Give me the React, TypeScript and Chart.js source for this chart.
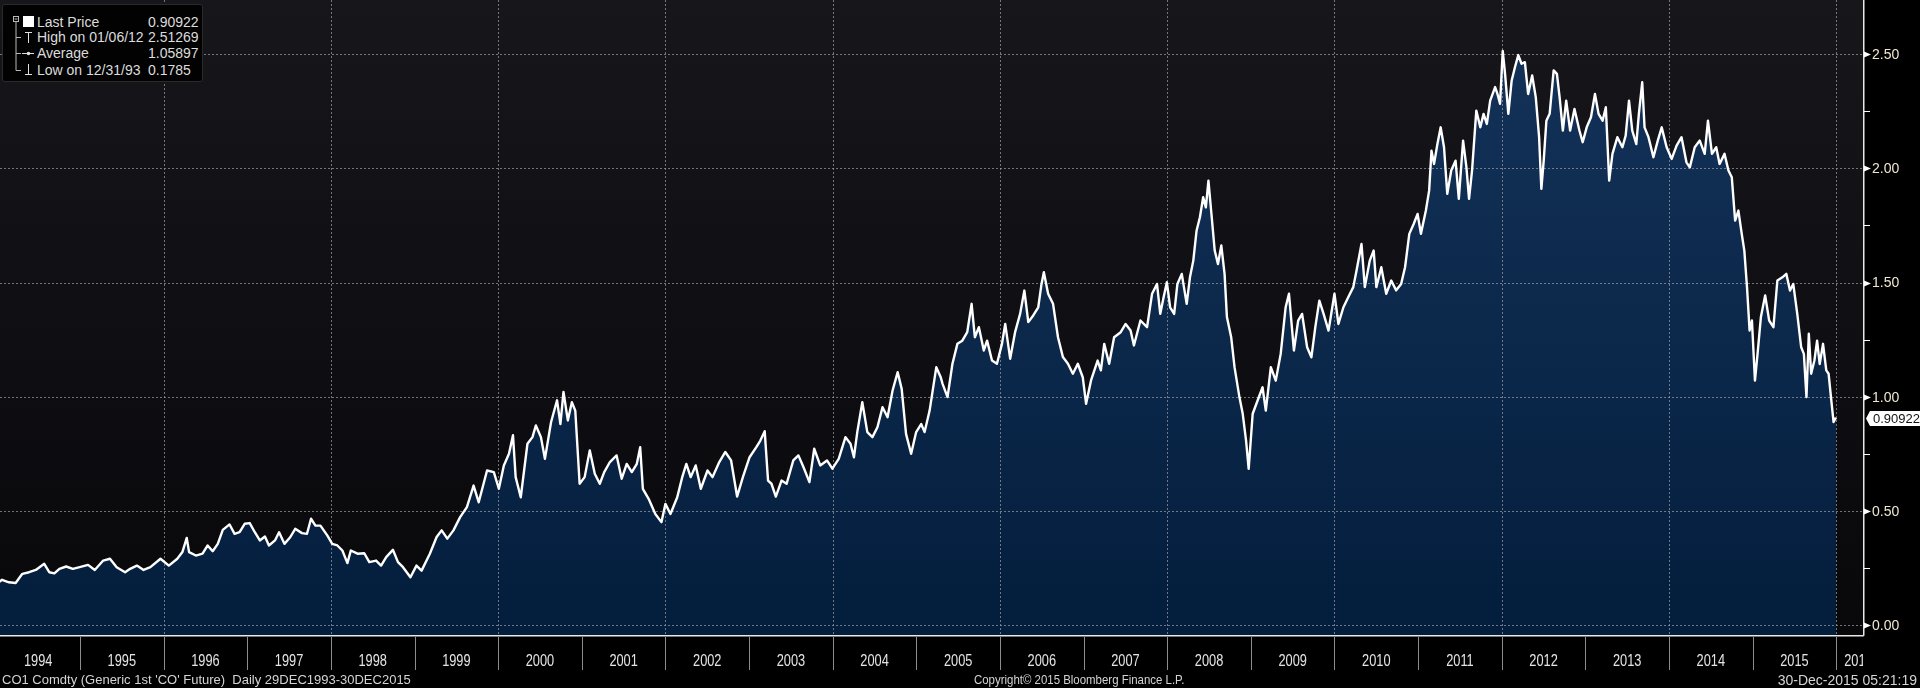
import { useEffect, useRef } from 'react';
import { Chart, registerables } from 'chart.js';

Chart.register(...registerables);

// ---- price history (decimal year, price) ----
const PRICES_1994_1998: Array<[number, number]> = [
  [1993.99, 0.179], [1994.068, 0.2], [1994.149, 0.189], [1994.23, 0.186], [1994.31, 0.226], [1994.391, 0.233],
  [1994.471, 0.243], [1994.572, 0.27], [1994.632, 0.233], [1994.693, 0.228], [1994.753, 0.248], [1994.834, 0.258],
  [1994.914, 0.248], [1994.995, 0.255], [1995.096, 0.265], [1995.176, 0.243], [1995.277, 0.284], [1995.358, 0.292],
  [1995.438, 0.255], [1995.539, 0.233], [1995.599, 0.248], [1995.68, 0.262], [1995.76, 0.243], [1995.841, 0.255],
  [1995.962, 0.292], [1996.062, 0.262], [1996.163, 0.292], [1996.224, 0.321], [1996.276, 0.383], [1996.304, 0.321],
  [1996.385, 0.306], [1996.465, 0.314], [1996.526, 0.35], [1996.586, 0.325], [1996.647, 0.357], [1996.707, 0.418],
  [1996.788, 0.442], [1996.848, 0.401], [1996.908, 0.408], [1996.969, 0.445], [1997.029, 0.448], [1997.09, 0.408],
  [1997.15, 0.372], [1997.211, 0.389], [1997.259, 0.35], [1997.331, 0.372], [1997.38, 0.408], [1997.444, 0.357],
  [1997.513, 0.386], [1997.573, 0.423], [1997.654, 0.404], [1997.714, 0.401], [1997.762, 0.467], [1997.815, 0.437],
  [1997.875, 0.437], [1997.956, 0.394], [1998.016, 0.357], [1998.077, 0.35], [1998.137, 0.328], [1998.197, 0.273],
  [1998.238, 0.328], [1998.318, 0.314], [1998.399, 0.316], [1998.459, 0.277], [1998.54, 0.284], [1998.6, 0.262],
  [1998.661, 0.299], [1998.741, 0.331], [1998.802, 0.277], [1998.862, 0.255], [1998.951, 0.211], [1999.023, 0.262],
  [1999.084, 0.24],
];

const PRICES_1999_2005: Array<[number, number]> = [
  [1999.183, 0.314], [1999.264, 0.387], [1999.324, 0.416], [1999.392, 0.38], [1999.465, 0.416], [1999.545, 0.474],
  [1999.626, 0.518], [1999.706, 0.612], [1999.767, 0.539], [1999.867, 0.678], [1999.948, 0.671], [2000.008, 0.598],
  [2000.068, 0.7], [2000.129, 0.751], [2000.177, 0.832], [2000.209, 0.649], [2000.27, 0.561], [2000.35, 0.795],
  [2000.41, 0.824], [2000.451, 0.875], [2000.511, 0.824], [2000.559, 0.729], [2000.632, 0.889], [2000.704, 0.985],
  [2000.744, 0.881], [2000.781, 1.022], [2000.833, 0.897], [2000.881, 0.977], [2000.922, 0.94], [2000.974, 0.62],
  [2001.034, 0.649], [2001.095, 0.766], [2001.155, 0.664], [2001.215, 0.62], [2001.268, 0.671], [2001.336, 0.715],
  [2001.416, 0.744], [2001.477, 0.642], [2001.537, 0.707], [2001.598, 0.671], [2001.658, 0.707], [2001.698, 0.78],
  [2001.73, 0.598], [2001.799, 0.554], [2001.879, 0.488], [2001.952, 0.452], [2002.0, 0.532], [2002.06, 0.488],
  [2002.141, 0.561], [2002.201, 0.649], [2002.25, 0.707], [2002.302, 0.649], [2002.362, 0.7], [2002.423, 0.598],
  [2002.503, 0.678], [2002.563, 0.649], [2002.644, 0.715], [2002.716, 0.759], [2002.785, 0.722], [2002.857, 0.564],
  [2002.926, 0.649], [2003.006, 0.736], [2003.087, 0.78], [2003.135, 0.809], [2003.187, 0.85], [2003.227, 0.634],
  [2003.268, 0.62], [2003.32, 0.564], [2003.388, 0.634], [2003.449, 0.62], [2003.529, 0.722], [2003.59, 0.744],
  [2003.65, 0.693], [2003.722, 0.627], [2003.779, 0.773], [2003.851, 0.7], [2003.932, 0.722], [2003.996, 0.686],
  [2004.072, 0.729], [2004.153, 0.824], [2004.213, 0.795], [2004.254, 0.736], [2004.294, 0.846], [2004.354, 0.977],
  [2004.414, 0.846], [2004.475, 0.824], [2004.535, 0.867], [2004.596, 0.955], [2004.656, 0.911], [2004.716, 1.028],
  [2004.777, 1.108], [2004.825, 1.035], [2004.877, 0.838], [2004.938, 0.751], [2004.998, 0.846], [2005.058, 0.881],
  [2005.099, 0.846], [2005.159, 0.94], [2005.239, 1.13], [2005.292, 1.086],
];

const PRICES_2005_2008: Array<[number, number]> = [
  [2005.314, 1.057], [2005.373, 0.999], [2005.432, 1.145], [2005.491, 1.232], [2005.55, 1.246], [2005.609, 1.283],
  [2005.661, 1.407], [2005.7, 1.261], [2005.748, 1.305], [2005.807, 1.203], [2005.846, 1.246], [2005.905, 1.159],
  [2005.964, 1.145], [2006.024, 1.232], [2006.063, 1.319], [2006.122, 1.167], [2006.181, 1.283], [2006.241, 1.363],
  [2006.292, 1.465], [2006.339, 1.327], [2006.398, 1.356], [2006.458, 1.392], [2006.497, 1.494], [2006.525, 1.545],
  [2006.576, 1.451], [2006.635, 1.407], [2006.694, 1.261], [2006.753, 1.174], [2006.813, 1.145], [2006.872, 1.101],
  [2006.931, 1.145], [2006.99, 1.086], [2007.03, 0.97], [2007.089, 1.072], [2007.168, 1.159], [2007.207, 1.116],
  [2007.247, 1.232], [2007.306, 1.145], [2007.365, 1.261], [2007.444, 1.283], [2007.503, 1.319], [2007.562, 1.29],
  [2007.602, 1.225], [2007.68, 1.334], [2007.759, 1.305], [2007.819, 1.451], [2007.878, 1.494], [2007.917, 1.363],
  [2007.957, 1.436], [2007.996, 1.501], [2008.035, 1.392], [2008.083, 1.363], [2008.122, 1.494], [2008.174, 1.538],
  [2008.233, 1.407], [2008.272, 1.523], [2008.312, 1.596], [2008.351, 1.727], [2008.391, 1.786], [2008.43, 1.873],
  [2008.462, 1.829], [2008.493, 1.946], [2008.529, 1.8], [2008.568, 1.64], [2008.607, 1.581], [2008.647, 1.662],
  [2008.686, 1.538], [2008.714, 1.349], [2008.765, 1.261], [2008.805, 1.13],
];

const PRICES_2008_2011: Array<[number, number]> = [
  [2008.864, 0.998], [2008.903, 0.926], [2008.943, 0.809], [2008.974, 0.685], [2009.022, 0.926], [2009.081, 0.984],
  [2009.14, 1.042], [2009.179, 0.94], [2009.239, 1.13], [2009.298, 1.071], [2009.357, 1.188], [2009.416, 1.392],
  [2009.456, 1.451], [2009.515, 1.203], [2009.566, 1.334], [2009.613, 1.363], [2009.673, 1.217], [2009.724, 1.173],
  [2009.771, 1.305], [2009.819, 1.421], [2009.87, 1.363], [2009.929, 1.29], [2010.0, 1.451], [2010.047, 1.319],
  [2010.107, 1.392], [2010.166, 1.437], [2010.225, 1.48], [2010.264, 1.553], [2010.323, 1.669], [2010.363, 1.48],
  [2010.422, 1.596], [2010.469, 1.64], [2010.501, 1.48], [2010.56, 1.567], [2010.619, 1.451], [2010.679, 1.509],
  [2010.738, 1.466], [2010.797, 1.494], [2010.844, 1.567], [2010.895, 1.713], [2010.947, 1.756], [2010.994, 1.8],
  [2011.034, 1.713], [2011.093, 1.815], [2011.132, 1.902], [2011.16, 2.077], [2011.191, 2.019], [2011.231, 2.106],
  [2011.27, 2.179], [2011.31, 2.092], [2011.349, 1.888], [2011.396, 1.99], [2011.448, 2.033], [2011.487, 1.866],
  [2011.538, 2.121], [2011.578, 2.004], [2011.609, 1.866], [2011.645, 1.99], [2011.696, 2.252], [2011.744, 2.179],
  [2011.783, 2.238], [2011.822, 2.194], [2011.862, 2.296], [2011.921, 2.355],
];

const PRICES_2012_2013: Array<[number, number]> = [
  [2011.949, 2.325], [2011.98, 2.282], [2012.012, 2.513], [2012.04, 2.413], [2012.079, 2.238], [2012.119, 2.384],
  [2012.158, 2.442], [2012.198, 2.495], [2012.237, 2.457], [2012.277, 2.464], [2012.316, 2.325], [2012.364, 2.406],
  [2012.407, 2.311], [2012.447, 2.136], [2012.474, 1.91], [2012.502, 2.033], [2012.534, 2.208], [2012.573, 2.238],
  [2012.621, 2.428], [2012.66, 2.413], [2012.692, 2.311], [2012.731, 2.165], [2012.771, 2.296], [2012.818, 2.165],
  [2012.87, 2.259], [2012.929, 2.165], [2012.968, 2.114], [2013.016, 2.179], [2013.067, 2.223], [2013.115, 2.325],
  [2013.158, 2.238], [2013.206, 2.208], [2013.245, 2.267], [2013.285, 1.946], [2013.324, 2.063], [2013.383, 2.136],
  [2013.443, 2.092], [2013.482, 2.143], [2013.522, 2.296], [2013.561, 2.165], [2013.609, 2.106], [2013.64, 2.238],
  [2013.68, 2.376],
];

const PRICES_2014_2015: Array<[number, number]> = [
  [2013.708, 2.179], [2013.755, 2.136], [2013.814, 2.048], [2013.866, 2.121], [2013.913, 2.179], [2013.972, 2.092],
  [2014.032, 2.041], [2014.091, 2.099], [2014.15, 2.136], [2014.209, 2.026], [2014.249, 2.004], [2014.308, 2.092],
  [2014.368, 2.121], [2014.427, 2.063], [2014.466, 2.208], [2014.514, 2.063], [2014.565, 2.092], [2014.605, 2.019],
  [2014.664, 2.063], [2014.711, 1.99], [2014.751, 1.961], [2014.791, 1.771], [2014.83, 1.815], [2014.87, 1.713],
  [2014.901, 1.64], [2014.933, 1.48], [2014.964, 1.29], [2014.992, 1.334], [2015.028, 1.071], [2015.059, 1.188],
  [2015.099, 1.349], [2015.15, 1.444], [2015.198, 1.334], [2015.249, 1.305], [2015.296, 1.509], [2015.356, 1.523],
  [2015.403, 1.538], [2015.447, 1.465], [2015.486, 1.494], [2015.534, 1.363], [2015.581, 1.217], [2015.613, 1.188],
  [2015.644, 0.999], [2015.672, 1.276], [2015.7, 1.101], [2015.739, 1.159], [2015.771, 1.246], [2015.802, 1.144],
  [2015.842, 1.232], [2015.881, 1.116], [2015.909, 1.101], [2015.937, 0.999], [2015.968, 0.89], [2015.996, 0.90922],
];

// ---- axes / labels ----
const Y_TICKS = [0, 0.5, 1, 1.5, 2, 2.5];
const Y_TICK_LABELS = ['0.00', '0.50', '1.00', '1.50', '2.00', '2.50'];
const Y_MINOR_TICKS = [0.25, 0.75, 1.25, 1.75, 2.25];
const GRID_YEARS = [1994, 1996, 1998, 2000, 2002, 2004, 2006, 2008, 2010, 2012, 2014, 2016];
const YEAR_LABELS = ['1994', '1995', '1996', '1997', '1998', '1999', '2000', '2001', '2002', '2003', '2004', '2005',
  '2006', '2007', '2008', '2009', '2010', '2011', '2012', '2013', '2014', '2015', '2016'];
const X_MIN = 1994.043;
const X_MAX = 2016.32;
const Y_MIN = -0.0416;
const Y_MAX = 2.736;

const LAST_PRICE = 0.90922;
const LAST_PRICE_LABEL = '0.90922';
const LEGEND_LABELS = ['Last Price', 'High on 01/06/12', 'Average', 'Low on 12/31/93'];
const LEGEND_VALUES = ['0.90922', '2.51269', '1.05897', '0.1785'];

const FOOT_LEFT = "CO1 Comdty (Generic 1st 'CO' Future)  Daily 29DEC1993-30DEC2015";
const FOOT_CENTER = 'Copyright\u00A9 2015 Bloomberg Finance L.P.';
const FOOT_RIGHT = '30-Dec-2015 05:21:19';

const FONT = "'Liberation Sans', Arial, sans-serif";

const bbgPlugin = {
  id: 'bbgStyle',
  beforeDraw(chart: any) {
    const { ctx, chartArea: a, width, height } = chart;
    ctx.save();
    ctx.fillStyle = '#000';
    ctx.fillRect(0, 0, width, height);
    const g = ctx.createLinearGradient(0, a.top, 0, a.bottom);
    g.addColorStop(0, '#17161b');
    g.addColorStop(1, '#08080b');
    ctx.fillStyle = g;
    ctx.fillRect(a.left, a.top, a.right - a.left, a.bottom - a.top);
    ctx.restore();
  },
  afterDatasetDraw(chart: any, args: any) {
    if (args.index !== 0) return;
    const { ctx, chartArea: a, scales } = chart;
    const xS = scales.x, yS = scales.y;
    ctx.save();
    ctx.beginPath();
    ctx.rect(a.left, a.top, a.right - a.left, a.bottom - a.top);
    ctx.clip();
    ctx.strokeStyle = 'rgba(150,150,160,0.75)';
    ctx.lineWidth = 1;
    ctx.setLineDash([2, 2]);
    ctx.beginPath();
    for (const v of Y_TICKS) {
      const y = Math.round(yS.getPixelForValue(v)) + 0.5;
      ctx.moveTo(a.left, y);
      ctx.lineTo(a.right, y);
    }
    for (const yr of GRID_YEARS) {
      const x = Math.round(xS.getPixelForValue(yr)) + 0.5;
      ctx.moveTo(x, a.top);
      ctx.lineTo(x, a.bottom);
    }
    ctx.stroke();
    ctx.restore();
  },
  afterDraw(chart: any) {
    const { ctx, chartArea: a, scales, width, height } = chart;
    const xS = scales.x, yS = scales.y;
    ctx.save();
    // axis borders
    ctx.strokeStyle = '#e8e8e8';
    ctx.lineWidth = 1.5;
    ctx.beginPath();
    ctx.moveTo(a.left, a.bottom + 0.75);
    ctx.lineTo(a.right + 0.75, a.bottom + 0.75);
    ctx.moveTo(a.right + 0.75, a.top);
    ctx.lineTo(a.right + 0.75, a.bottom + 0.75);
    ctx.stroke();

    // right axis ticks + labels
    ctx.fillStyle = '#ffffff';
    for (const v of Y_TICKS) {
      const y = Math.round(yS.getPixelForValue(v)) + 0.5;
      ctx.beginPath();
      ctx.moveTo(a.right + 1, y - 3);
      ctx.lineTo(a.right + 8, y);
      ctx.lineTo(a.right + 1, y + 3);
      ctx.closePath();
      ctx.fill();
    }
    ctx.strokeStyle = '#ffffff';
    ctx.lineWidth = 1;
    ctx.beginPath();
    for (const v of Y_MINOR_TICKS) {
      const y = Math.round(yS.getPixelForValue(v)) + 0.5;
      ctx.moveTo(a.right + 1, y);
      ctx.lineTo(a.right + 7, y);
    }
    ctx.stroke();
    ctx.font = `14px ${FONT}`;
    ctx.fillStyle = '#efe7d0';
    ctx.textAlign = 'left';
    ctx.textBaseline = 'middle';
    Y_TICKS.forEach((v, i) => {
      const y = yS.getPixelForValue(v);
      ctx.fillText(Y_TICK_LABELS[i], a.right + 9, y + 1);
    });

    // last price tag
    const ty = Math.round(yS.getPixelForValue(LAST_PRICE)) + 0.5;
    ctx.fillStyle = '#ffffff';
    ctx.beginPath();
    ctx.moveTo(a.right + 3, ty);
    ctx.lineTo(a.right + 7, ty - 7.5);
    ctx.lineTo(width, ty - 7.5);
    ctx.lineTo(width, ty + 7.5);
    ctx.lineTo(a.right + 7, ty + 7.5);
    ctx.closePath();
    ctx.fill();
    ctx.fillStyle = '#111111';
    ctx.font = `13px ${FONT}`;
    ctx.fillText(LAST_PRICE_LABEL, a.right + 10, ty + 1);

    // year separators
    ctx.strokeStyle = '#8c8c8c';
    ctx.lineWidth = 1;
    ctx.beginPath();
    for (const lab of YEAR_LABELS) {
      const x = Math.round(xS.getPixelForValue(Number(lab))) + 0.5;
      if (x < a.left + 1 || x > a.right) continue;
      ctx.moveTo(x, a.bottom + 2);
      ctx.lineTo(x, a.bottom + 35);
    }
    ctx.stroke();

    // year labels
    ctx.save();
    ctx.beginPath();
    ctx.rect(a.left, a.bottom + 2, a.right - a.left, height - a.bottom);
    ctx.clip();
    ctx.font = `16px ${FONT}`;
    ctx.fillStyle = '#e4e4e4';
    ctx.textBaseline = 'middle';
    const labY = a.bottom + 27;
    for (const lab of YEAR_LABELS) {
      const yr = Number(lab);
      const x0 = xS.getPixelForValue(yr);
      const x1 = xS.getPixelForValue(yr + 1);
      ctx.save();
      if (x1 <= a.right + 2) {
        ctx.textAlign = 'center';
        ctx.translate((x0 + x1) / 2, labY);
      } else {
        ctx.textAlign = 'left';
        ctx.translate(x0 + 8, labY);
      }
      ctx.scale(0.8, 1);
      ctx.fillText(lab, 0, 0);
      ctx.restore();
    }
    ctx.restore();
    ctx.restore();
  },
};

function LegendIcons() {
  const c = '#b8b8b8';
  return (
    <svg width={40} height={78} style={{ position: 'absolute', left: 0, top: 0 }}>
      <rect x={10.5} y={11.5} width={5} height={5} fill="none" stroke={c} strokeWidth={1} />
      <line x1={11.5} y1={14} x2={14.5} y2={14} stroke={c} strokeWidth={1} />
      <line x1={13} y1={17} x2={13} y2={65.5} stroke={c} strokeWidth={1} />
      <line x1={13} y1={32.5} x2={18} y2={32.5} stroke={c} strokeWidth={1} />
      <line x1={13} y1={48.5} x2={18} y2={48.5} stroke={c} strokeWidth={1} />
      <line x1={13} y1={65.5} x2={18} y2={65.5} stroke={c} strokeWidth={1} />
      <rect x={20} y={11} width={11} height={11} fill="#ffffff" />
      <line x1={22} y1={27.5} x2={29} y2={27.5} stroke="#e0e0e0" strokeWidth={1} />
      <line x1={25.5} y1={27.5} x2={25.5} y2={38} stroke="#e0e0e0" strokeWidth={1} />
      <line x1={19} y1={48.5} x2={31} y2={48.5} stroke="#e0e0e0" strokeWidth={1} />
      <circle cx={25.5} cy={48.5} r={1.8} fill="#e0e0e0" />
      <line x1={25.5} y1={59} x2={25.5} y2={69.5} stroke="#e0e0e0" strokeWidth={1} />
      <line x1={22} y1={69.5} x2={29} y2={69.5} stroke="#e0e0e0" strokeWidth={1} />
    </svg>
  );
}

export default function App() {
  const canvasRef = useRef<HTMLCanvasElement | null>(null);

  useEffect(() => {
    document.body.style.margin = '0';
    document.body.style.background = '#000';
    const canvas = canvasRef.current;
    if (!canvas) return;
    const all = [
      ...PRICES_1994_1998, ...PRICES_1999_2005, ...PRICES_2005_2008,
      ...PRICES_2008_2011, ...PRICES_2012_2013, ...PRICES_2014_2015,
    ];
    const fillData = all.map(([x, y]) => ({ x, y }));
    const lineData = all.map(([x, y]) => ({ x, y }));

    const chart = new Chart(canvas, {
      type: 'line',
      data: {
        datasets: [
          {
            data: fillData,
            order: 2,
            borderWidth: 0,
            borderColor: 'rgba(0,0,0,0)',
            pointRadius: 0,
            fill: 'start',
            tension: 0,
            backgroundColor: (c: any) => {
              const ch = c.chart;
              const a = ch.chartArea;
              if (!a) return '#0b2a4d';
              const g = ch.ctx.createLinearGradient(0, a.top, 0, a.bottom);
              g.addColorStop(0, '#15345b');
              g.addColorStop(1, '#031d3c');
              return g;
            },
          },
          {
            data: lineData,
            order: 1,
            borderColor: '#ffffff',
            borderWidth: 2.4,
            pointRadius: 0,
            fill: false,
            tension: 0,
            borderJoinStyle: 'round',
          },
        ],
      },
      options: {
        animation: false,
        responsive: false,
        events: [],
        layout: { padding: { left: 0, top: 0, right: 57, bottom: 53 } },
        plugins: { legend: { display: false }, tooltip: { enabled: false } },
        scales: {
          x: { type: 'linear', display: false, min: X_MIN, max: X_MAX },
          y: { type: 'linear', display: false, min: Y_MIN, max: Y_MAX },
        },
      },
      plugins: [bbgPlugin],
    } as any);
    return () => chart.destroy();
  }, []);

  const rowTop = [9, 24, 40, 57];
  const foot = { position: 'absolute' as const, top: 672, fontFamily: FONT, lineHeight: '16px', color: '#d4d4d4', whiteSpace: 'pre' as const };
  return (
    <div style={{ position: 'relative', width: 1920, height: 688, background: '#000', overflow: 'hidden' }}>
      <canvas ref={canvasRef} width={1920} height={688} style={{ display: 'block', width: 1920, height: 688 }} />
      <div
        style={{
          position: 'absolute', left: 2, top: 4, width: 201, height: 78, background: '#020202',
          border: '1px solid #2a2a2a', borderRadius: 3, boxSizing: 'border-box',
          fontFamily: FONT, fontSize: 14, color: '#dcdcdc',
        }}
      >
        <LegendIcons />
        {LEGEND_LABELS.map((lab, i) => (
          <div key={lab} style={{ position: 'absolute', left: 34, top: rowTop[i], lineHeight: '16px', whiteSpace: 'pre' }}>
            {lab}
          </div>
        ))}
        {LEGEND_VALUES.map((val, i) => (
          <div key={'v' + i} style={{ position: 'absolute', left: 145, top: rowTop[i], lineHeight: '16px' }}>
            {val}
          </div>
        ))}
      </div>
      <div style={{ ...foot, left: 2, fontSize: 13 }}>{FOOT_LEFT}</div>
      <div style={{ ...foot, left: 974, fontSize: 13, transform: 'scaleX(0.88)', transformOrigin: 'left center' }}>
        {FOOT_CENTER}
      </div>
      <div style={{ ...foot, right: 3, fontSize: 14 }}>{FOOT_RIGHT}</div>
    </div>
  );
}
